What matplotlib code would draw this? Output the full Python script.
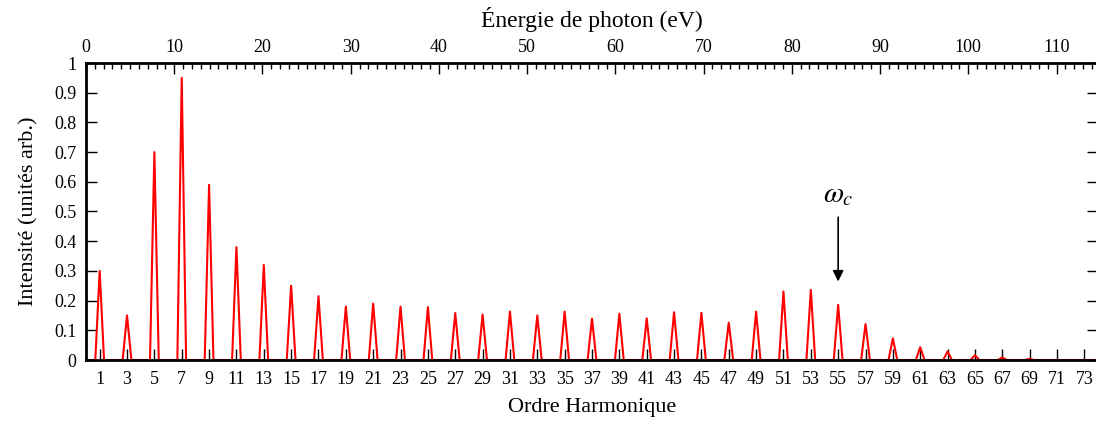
import numpy as np
import matplotlib.pyplot as plt
from matplotlib.ticker import MultipleLocator

plt.rcParams['font.family'] = ['Liberation Serif', 'DejaVu Serif']
plt.rcParams['mathtext.fontset'] = 'stix'

# harmonic orders and their peak intensities (arb. units)
orders = list(range(1, 75, 2))
intensity = [0.30, 0.15, 0.70, 0.95, 0.59, 0.38, 0.32, 0.25, 0.215, 0.18,
             0.19, 0.18, 0.178, 0.158, 0.153, 0.163, 0.15, 0.163, 0.139, 0.156,
             0.14, 0.161, 0.159, 0.126, 0.163, 0.231, 0.236, 0.186, 0.121, 0.073,
             0.043, 0.029, 0.016, 0.009, 0.004, 0.0, 0.0]
photon_ev = 1.55  # energy of one harmonic order
cutoff_order = 55

# spectrum line: each harmonic drawn as a narrow peak on a zero baseline
hw = 0.32
xs = [0.0]
ys = [0.0]
for h, I in zip(orders, intensity):
    xs += [h - hw, h, h + hw]
    ys += [0.0, I, 0.0]
xs.append(74.0)
ys.append(0.0)

fig = plt.figure(figsize=(10.96, 4.23), dpi=100)
ax = fig.add_axes([86 / 1096, 63 / 423, 1012 / 1096, 297 / 423])
ax.plot(xs, ys, color='red', lw=1.5)

ax.set_xlim(0, 74)
ax.set_ylim(0, 1)
ax.set_xticks(orders)
ax.set_xticklabels([str(o) for o in orders])
ax.set_yticks(np.arange(0, 1.01, 0.1))
ax.set_yticklabels(['0', '0.1', '0.2', '0.3', '0.4', '0.5', '0.6', '0.7', '0.8', '0.9', '1'])
ax.tick_params(axis='x', direction='in', length=8, width=1, top=False, pad=8, labelsize=13)
ax.tick_params(axis='y', direction='in', length=8, width=1, right=True, pad=7, labelsize=13)
for s in ax.spines.values():
    s.set_linewidth(2)

top = ax.secondary_xaxis('top', functions=(lambda h: h * photon_ev, lambda e: e / photon_ev))
top.set_xticks(np.arange(0, 111, 10))
top.xaxis.set_minor_locator(MultipleLocator(1))
top.tick_params(which='major', direction='in', length=8, width=1, pad=5, labelsize=13)
top.tick_params(which='minor', direction='in', length=4, width=1)
top.set_xlabel('Énergie de photon (eV)', fontsize=17, labelpad=9)

ax.set_xlabel('Ordre Harmonique', fontsize=16, labelpad=7)
ax.set_ylabel('Intensité (unités arb.)', fontsize=16, labelpad=11)

ax.annotate('', xy=(cutoff_order, 0.255), xytext=(cutoff_order, 0.49),
            arrowprops=dict(arrowstyle='-|>', color='black', lw=1.2, mutation_scale=16))
ax.text(cutoff_order, 0.51, r'$\omega_c$', fontsize=21, ha='center', va='bottom')

fig.savefig('out.png', dpi=100)
